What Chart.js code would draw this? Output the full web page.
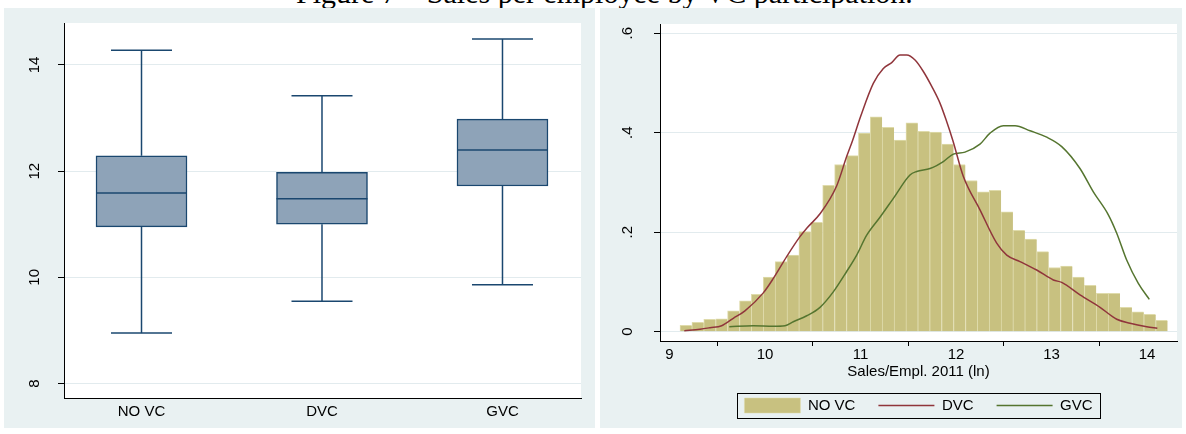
<!DOCTYPE html>
<html>
<head>
<meta charset="utf-8">
<script src="https://cdn.jsdelivr.net/npm/chart.js@4.4.0/dist/chart.umd.min.js"></script>
<style>
  html, body { margin: 0; padding: 0; background: #fff; }
  body { width: 1186px; height: 434px; position: relative; overflow: hidden; }
  #title { position: absolute; left: 296px; top: -22px; font: 30px/1 "Liberation Serif", "Times New Roman", serif; white-space: nowrap; color: #000; }
  .panel { position: absolute; top: 8px; height: 420px; background: #e9f1f2; }
  #left { left: 4px; width: 591px; }
  #right { left: 600px; width: 582px; }
  canvas { display: block; }
</style>
</head>
<body>
<div id="title">Figure 7 – Sales per employee by VC participation.</div>
<div class="panel" id="left"><canvas id="boxChart" width="591" height="420"></canvas></div>
<div class="panel" id="right"><canvas id="histChart" width="582" height="420"></canvas></div>
<script>
// left panel: box plot of ln(sales/employee)
const groups = ['NO VC', 'DVC', 'GVC'];
const boxMin = [8.95, 9.55, 9.86];
const boxQ1 = [10.95, 11.00, 11.72];
const boxMedian = [11.59, 11.48, 12.40];
const boxQ3 = [12.29, 11.98, 12.98];
const boxMax = [14.28, 13.42, 14.49];
const boxYTicks = [8, 10, 12, 14];

// right panel: histogram (NO VC) + kernel densities
const binCenters = [9.172, 9.297, 9.421, 9.546, 9.670, 9.795, 9.919, 10.044, 10.168, 10.293,
    10.417, 10.542, 10.666, 10.791, 10.915, 11.040, 11.164, 11.289, 11.414, 11.538,
    11.663, 11.787, 11.912, 12.036, 12.161, 12.285, 12.410, 12.534, 12.659, 12.783,
    12.908, 13.032, 13.157, 13.282, 13.406, 13.531, 13.655, 13.780, 13.904, 14.029, 14.153];
const noVcDensity = [0.013, 0.019, 0.025, 0.026, 0.042, 0.062, 0.075, 0.110, 0.141, 0.154,
    0.201, 0.220, 0.294, 0.336, 0.354, 0.399, 0.432, 0.411, 0.385, 0.420,
    0.403, 0.401, 0.377, 0.336, 0.304, 0.281, 0.284, 0.241, 0.204, 0.186,
    0.161, 0.129, 0.132, 0.110, 0.093, 0.077, 0.077, 0.049, 0.040, 0.035, 0.023];
const dvcX = [9.155, 9.319, 9.424, 9.546, 9.668, 9.790, 9.982, 10.087, 10.227, 10.366, 10.437,
    10.576, 10.750, 10.855, 10.918, 11.000, 11.134, 11.239, 11.327, 11.414, 11.484, 11.571,
    11.658, 11.746, 11.833, 11.903, 11.966, 12.077, 12.251, 12.426, 12.531, 12.670, 12.845,
    13.019, 13.107, 13.298, 13.508, 13.683, 13.822, 13.997, 14.108];
const dvcY = [0.002, 0.005, 0.008, 0.012, 0.027, 0.042, 0.078, 0.107, 0.151, 0.191, 0.208,
    0.237, 0.293, 0.352, 0.385, 0.432, 0.499, 0.529, 0.541, 0.556, 0.556, 0.546,
    0.523, 0.493, 0.459, 0.422, 0.385, 0.312, 0.245, 0.178, 0.154, 0.141, 0.124,
    0.104, 0.099, 0.074, 0.049, 0.025, 0.017, 0.010, 0.007];
const gvcX = [9.626, 9.877, 10.087, 10.209, 10.296, 10.437, 10.576, 10.715, 10.855, 10.960,
    11.065, 11.204, 11.344, 11.518, 11.588, 11.728, 11.867, 11.972, 12.094, 12.251, 12.356,
    12.495, 12.618, 12.775, 12.950, 13.107, 13.298, 13.438, 13.595, 13.683, 13.787, 13.909, 14.024];
const gvcY = [0.010, 0.012, 0.011, 0.012, 0.020, 0.032, 0.049, 0.080, 0.121, 0.154,
    0.194, 0.230, 0.268, 0.315, 0.322, 0.328, 0.342, 0.357, 0.361, 0.377, 0.399,
    0.414, 0.414, 0.404, 0.391, 0.372, 0.328, 0.281, 0.235, 0.198, 0.144, 0.097, 0.065];
const histXTicks = [9, 10, 11, 12, 13, 14];
const histYTicks = [0, 0.2, 0.4, 0.6];
const histYLabels = ['0', '.2', '.4', '.6'];

const NAVY = '#1a476f';
const GRID = '#e2ebee';

Chart.defaults.font.family = '"Liberation Sans", Arial, sans-serif';
Chart.defaults.font.size = 15;
Chart.defaults.color = '#000';

// white plot region like Stata
const plotRegion = {
    id: 'plotRegion',
    beforeDraw(chart) {
        const a = chart.chartArea, ctx = chart.ctx;
        ctx.save();
        ctx.fillStyle = '#fff';
        ctx.fillRect(a.left, a.top, a.right - a.left, a.bottom - a.top);
        ctx.restore();
    }
};

// whiskers, caps and median on top of the floating bars
const whiskers = {
    id: 'whiskers',
    afterDatasetsDraw(chart) {
        const ctx = chart.ctx, xs = chart.scales.x, ys = chart.scales.y;
        ctx.save();
        ctx.strokeStyle = NAVY;
        ctx.lineWidth = 1.5;
        groups.forEach((g, i) => {
            const x = xs.getPixelForValue(i + 1);
            const seg = (x1, y1, x2, y2) => {
                ctx.beginPath(); ctx.moveTo(x1, y1); ctx.lineTo(x2, y2); ctx.stroke();
            };
            seg(x, ys.getPixelForValue(boxQ3[i]), x, ys.getPixelForValue(boxMax[i]));
            seg(x, ys.getPixelForValue(boxQ1[i]), x, ys.getPixelForValue(boxMin[i]));
            seg(x - 30.5, ys.getPixelForValue(boxMax[i]), x + 30.5, ys.getPixelForValue(boxMax[i]));
            seg(x - 30.5, ys.getPixelForValue(boxMin[i]), x + 30.5, ys.getPixelForValue(boxMin[i]));
            seg(x - 45.5, ys.getPixelForValue(boxMedian[i]), x + 45.5, ys.getPixelForValue(boxMedian[i]));
        });
        ctx.restore();
    }
};

// framed legend
const legendFrame = {
    id: 'legendFrame',
    afterDraw(chart) {
        const boxes = chart.legend.legendHitBoxes;
        if (!boxes || !boxes.length) return;
        const first = boxes[0], last = boxes[boxes.length - 1];
        const cy = first.top + first.height / 2;
        const ctx = chart.ctx;
        ctx.save();
        ctx.strokeStyle = '#000';
        ctx.lineWidth = 1;
        ctx.strokeRect(Math.round(first.left - 7) + 0.5, Math.round(cy - 12.5) + 0.5,
            Math.round(last.left + last.width - first.left + 15), 25);
        ctx.restore();
    }
};

// keep label overhang from pushing the plot region
const noOverhangY = s => { s.width = 60; s.paddingTop = 0; s.paddingBottom = 0; };

new Chart(document.getElementById('boxChart'), {
    type: 'bar',
    data: {
        datasets: [{
            label: 'box',
            data: groups.map((g, i) => ({ x: i + 1, y: [boxQ1[i], boxQ3[i]] })),
            backgroundColor: '#8ea3b8',
            borderColor: NAVY,
            borderWidth: 1.5,
            borderSkipped: false,
            barThickness: 91
        }]
    },
    options: {
        responsive: false,
        animation: false,
        layout: { padding: { top: 15, right: 14, bottom: 0, left: 0 } },
        plugins: { legend: { display: false }, tooltip: { enabled: false } },
        scales: {
            x: {
                type: 'linear',
                min: 0.5706,
                max: 3.435,
                offset: false,
                afterBuildTicks: s => { s.ticks = groups.map((g, i) => ({ value: i + 1 })); },
                afterFit: s => { s.height = 30; s.paddingLeft = 0; s.paddingRight = 0; },
                ticks: { callback: (v, i) => groups[i], padding: 5 },
                grid: { display: false, drawTicks: false },
                border: { display: true, color: '#000', width: 1 }
            },
            y: {
                min: 7.727,
                max: 14.791,
                afterBuildTicks: s => { s.ticks = boxYTicks.map(v => ({ value: v })); },
                afterFit: noOverhangY,
                ticks: { minRotation: 90, maxRotation: 90, crossAlign: 'center', padding: 15 },
                grid: { color: GRID, tickColor: '#000', tickLength: 6 },
                border: { display: true, color: '#000', width: 1 }
            }
        }
    },
    plugins: [plotRegion, whiskers]
});

new Chart(document.getElementById('histChart'), {
    type: 'bar',
    data: {
        datasets: [{
            label: 'NO VC',
            data: binCenters.map((x, i) => ({ x: x, y: noVcDensity[i] })),
            backgroundColor: '#c8c180',
            borderColor: '#dfdbab',
            borderWidth: { top: 1, left: 1, right: 0, bottom: 0 },
            barPercentage: 1,
            categoryPercentage: 1,
            pointStyle: 'rect',
            order: 2
        }, {
            type: 'line',
            label: 'DVC',
            data: dvcX.map((x, i) => ({ x: x, y: dvcY[i] })),
            borderColor: '#90353b',
            borderWidth: 1.5,
            pointRadius: 0,
            pointStyle: 'line',
            cubicInterpolationMode: 'monotone',
            order: 1
        }, {
            type: 'line',
            label: 'GVC',
            data: gvcX.map((x, i) => ({ x: x, y: gvcY[i] })),
            borderColor: '#55752f',
            borderWidth: 1.5,
            pointRadius: 0,
            pointStyle: 'line',
            cubicInterpolationMode: 'monotone',
            order: 1
        }]
    },
    options: {
        responsive: false,
        animation: false,
        layout: { padding: { top: 16, right: 5, bottom: 5, left: 0 } },
        plugins: {
            tooltip: { enabled: false },
            legend: {
                position: 'bottom',
                fullSize: false,
                labels: {
                    usePointStyle: true,
                    pointStyleWidth: 56,
                    boxHeight: 17,
                    padding: 23,
                    color: '#000',
                    sort: (a, b) => a.datasetIndex - b.datasetIndex
                }
            }
        },
        scales: {
            x: {
                type: 'linear',
                min: 8.9005,
                max: 14.314,
                offset: false,
                afterBuildTicks: s => { s.ticks = histXTicks.map(v => ({ value: v })); },
                afterFit: s => { s.height = 34; s.paddingLeft = 0; s.paddingRight = 0; },
                ticks: { padding: 0 },
                title: { display: true, text: 'Sales/Empl. 2011 (ln)', padding: { top: 0, bottom: -6 } },
                grid: { drawOnChartArea: false, tickColor: '#000', tickLength: 5 },
                border: { display: true, color: '#000', width: 1 }
            },
            y: {
                min: -0.0187,
                max: 0.6185,
                afterBuildTicks: s => { s.ticks = histYTicks.map(v => ({ value: v })); },
                afterFit: noOverhangY,
                ticks: { callback: (v, i) => histYLabels[i], minRotation: 90, maxRotation: 90, crossAlign: 'center', padding: 20 },
                grid: { color: GRID, tickColor: '#000', tickLength: 6 },
                border: { display: true, color: '#000', width: 1 }
            }
        }
    },
    plugins: [plotRegion, legendFrame]
});
</script>
</body>
</html>
